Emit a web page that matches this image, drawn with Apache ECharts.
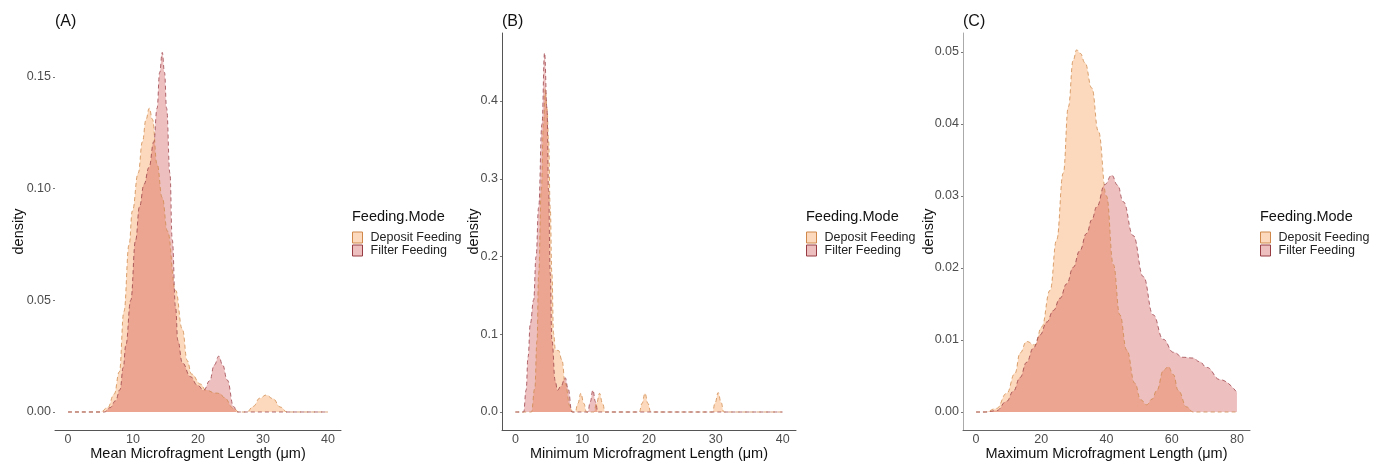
<!DOCTYPE html>
<html>
<head>
<meta charset="utf-8">
<title>Microfragment length density by feeding mode</title>
<script src="https://cdn.jsdelivr.net/npm/echarts@6/dist/echarts.min.js"></script>
<style>
  html, body { margin: 0; padding: 0; background: #fff; }
  #chart { width: 1381px; height: 464px; }
</style>
</head>
<body>
<div id="chart"></div>
<script>
// density curves, [length (µm), density]
const meanDeposit = [
  [0, 0], [5, 0], [6.1, 0.002], [7.1, 0.008], [7.9, 0.018], [8.6, 0.045], [9.4, 0.075],
  [9.9, 0.09], [10.8, 0.107], [11.45, 0.121], [12, 0.131], [12.5, 0.136], [13, 0.131],
  [13.7, 0.111], [14.5, 0.096], [15.3, 0.081], [16.55, 0.0545], [17.6, 0.037], [18.35, 0.023],
  [19, 0.017], [20.4, 0.0125], [21.2, 0.0098], [22.7, 0.0085], [23.4, 0.0083], [24, 0.0065],
  [25.5, 0.0016], [26.3, 0], [27.5, 0], [28.5, 0.0025], [29.5, 0.0062], [30.5, 0.0076],
  [31.5, 0.006], [32.7, 0.0022], [33.7, 0], [40, 0]
];
const meanFilter = [
  [0, 0], [5.6, 0], [6.5, 0.002], [7.3, 0.005], [8, 0.01], [8.5, 0.02], [8.9, 0.03],
  [9.65, 0.05], [10.4, 0.077], [11, 0.092], [11.7, 0.102], [12.46, 0.1095], [13.2, 0.121],
  [13.7, 0.136], [14.1, 0.152], [14.5, 0.161], [14.85, 0.152], [15.17, 0.136], [15.68, 0.107],
  [16.04, 0.077], [16.55, 0.047], [16.9, 0.032], [17.6, 0.022], [18.85, 0.0158], [19.9, 0.012],
  [20.9, 0.0098], [21.8, 0.014], [22.5, 0.021], [23.2, 0.025], [23.8, 0.021], [24.5, 0.0143],
  [25.5, 0.0024], [26, 0], [40, 0]
];
const minDeposit = [
  [0, 0], [2.4, 0], [2.9, 0.03], [3.24, 0.092], [3.48, 0.178], [3.88, 0.285], [4.2, 0.37],
  [4.48, 0.415], [4.75, 0.39], [4.97, 0.349], [5.22, 0.263], [5.47, 0.178], [5.72, 0.101],
  [6, 0.08], [6.47, 0.079], [6.97, 0.067], [7.46, 0.037], [8.2, 0.007], [8.6, 0],
  [8.95, 0], [9.35, 0.011], [9.8, 0.024], [10.25, 0.011], [10.65, 0],
  [11.75, 0], [12.15, 0.011], [12.6, 0.024], [13.05, 0.011], [13.45, 0],
  [18.55, 0], [18.95, 0.011], [19.4, 0.024], [19.85, 0.011], [20.25, 0],
  [29.5, 0], [29.9, 0.012], [30.35, 0.025], [30.8, 0.012], [31.2, 0], [40, 0]
];
const minFilter = [
  [0, 0], [1.24, 0], [1.6, 0.028], [1.9, 0.071], [2.24, 0.114], [2.73, 0.144], [3.1, 0.2],
  [3.48, 0.263], [3.98, 0.37], [4.37, 0.462], [4.73, 0.391], [4.97, 0.285], [5.22, 0.178],
  [5.47, 0.092], [5.97, 0.04], [6.3, 0.028], [6.8, 0.033], [7.46, 0.044], [7.9, 0.03],
  [8.46, 0], [10.85, 0], [11.2, 0.013], [11.6, 0.028], [12, 0.013], [12.35, 0], [40, 0]
];
const maxDeposit = [
  [0, 0], [2.8, 0], [6.3, 0.0005], [9.4, 0.0026], [11.95, 0.0054], [13.5, 0.0082],
  [15.5, 0.0098], [18.1, 0.0093], [20.1, 0.0118], [22.7, 0.0169], [24.7, 0.0239],
  [26.75, 0.0332], [28.3, 0.0424], [29.8, 0.0489], [30.85, 0.0503], [32, 0.0498],
  [33.4, 0.0485], [35.5, 0.045], [37.5, 0.039], [40, 0.03], [42.1, 0.0205], [44.1, 0.0135],
  [46.2, 0.0086], [48.7, 0.004], [50.5, 0.0017], [52.3, 0.001], [54, 0.0018], [55.4, 0.003],
  [57.5, 0.0058], [58.95, 0.0063], [60.5, 0.0052], [62, 0.003], [64.6, 0.0007], [66.6, 0],
  [80, 0]
];
const maxFilter = [
  [0, 0], [3, 0], [6.3, 0.0002], [9.4, 0.0015], [11.45, 0.0029], [13.5, 0.0048],
  [15.5, 0.0069], [17.6, 0.0089], [19.6, 0.0107], [21.7, 0.0125], [23.7, 0.0141],
  [25.75, 0.0158], [27.8, 0.0178], [29.8, 0.0201], [31.8, 0.0224], [33.9, 0.0248],
  [35.5, 0.0267], [37, 0.0285], [39.5, 0.0316], [41.6, 0.0329], [43.4, 0.0315],
  [45.15, 0.0292], [48.2, 0.0245], [51.3, 0.0188], [54.3, 0.0135], [57.4, 0.0101],
  [60.5, 0.0083], [63.5, 0.0076], [66.5, 0.0075], [68.5, 0.007], [70.7, 0.0062],
  [74.8, 0.0045], [80, 0.0027]
];

const groups = ['Deposit Feeding', 'Filter Feeding'];
const panelLabels = ['(A)', '(B)', '(C)'];
const xTitles = [
  'Mean Microfragment Length (μm)',
  'Minimum Microfragment Length (μm)',
  'Maximum Microfragment Length (μm)'
];
const xTicksA = [0, 10, 20, 30, 40];
const xTicksB = [0, 10, 20, 30, 40];
const xTicksC = [0, 20, 40, 60, 80];
const yTicksA = [0, 0.05, 0.10, 0.15];
const yTicksB = [0, 0.1, 0.2, 0.3, 0.4];
const yTicksC = [0, 0.01, 0.02, 0.03, 0.04, 0.05];

const font = '"Liberation Sans", Arial, sans-serif';
const fills = ['#f8a058', '#c83838'];
const strokes = ['#cf874a', '#983c44'];
const keyFills = ['#fcd9bc', '#edbfbf'];

const panels = [
  { curves: [meanDeposit, meanFilter], xTicks: xTicksA, yTicks: yTicksA, digits: 2,
    left: 55, width: 286, xMin: -2, xMax: 42, yMin: -0.00806, yMax: 0.1697,
    yLine: false, yLineColor: '#555', xLineColor: '#555', nameGap: 29, legendLeft: 352 },
  { curves: [minDeposit, minFilter], xTicks: xTicksB, yTicks: yTicksB, digits: 1,
    left: 502, width: 294, xMin: -2, xMax: 42, yMin: -0.02315, yMax: 0.4875,
    yLine: true, yLineColor: '#555', xLineColor: '#555', nameGap: 21, legendLeft: 806 },
  { curves: [maxDeposit, maxFilter], xTicks: xTicksC, yTicks: yTicksC, digits: 2,
    left: 963, width: 287, xMin: -4, xMax: 84, yMin: -0.0025, yMax: 0.05264,
    yLine: true, yLineColor: '#aaa', xLineColor: '#666', nameGap: 27, legendLeft: 1260 }
];

const chart = echarts.init(document.getElementById('chart'));

const series = [];
panels.forEach((p, i) => {
  p.curves.forEach((data, k) => {
    series.push({
      name: groups[k],
      type: 'line',
      xAxisIndex: i,
      yAxisIndex: i,
      data: data,
      smooth: 0.45,
      smoothMonotone: 'x',
      symbol: 'none',
      silent: true,
      itemStyle: { color: keyFills[k] },
      lineStyle: { color: strokes[k], width: 0.9, type: [4, 3], opacity: 0.85 },
      areaStyle: { color: fills[k], opacity: k === 0 ? 0.4 : 0.32 },
      emphasis: { disabled: true }
    });
  });
});

chart.setOption({
  animation: false,
  textStyle: { fontFamily: font },
  title: panels.map((p, i) => ({
    text: panelLabels[i], left: p.left, top: 14, padding: 0,
    textStyle: { fontSize: 16, fontWeight: 'normal', color: '#111', fontFamily: font }
  })).concat(panels.map(p => ({
    text: 'Feeding.Mode', left: p.legendLeft, top: 209, padding: 0,
    textStyle: { fontSize: 14.5, fontWeight: 'normal', color: '#111', fontFamily: font }
  }))),
  legend: panels.map(p => ({
    left: p.legendLeft, top: 231, orient: 'vertical', padding: 0,
    itemWidth: 10, itemHeight: 11, itemGap: 0, icon: 'rect', selectedMode: false,
    textStyle: { fontSize: 12.5, lineHeight: 11, color: '#222', fontFamily: font, padding: [0, 0, 0, 3] },
    data: groups.map((g, k) => ({
      name: g,
      itemStyle: { color: keyFills[k], borderColor: strokes[k], borderWidth: 1 }
    }))
  })),
  grid: panels.map(p => ({
    left: p.left, top: 33, width: p.width, height: 397, outerBoundsMode: 'none'
  })),
  xAxis: panels.map((p, i) => ({
    type: 'value', gridIndex: i, min: p.xMin, max: p.xMax,
    name: xTitles[i], nameLocation: 'middle', nameGap: 16, nameMoveOverlap: false,
    nameTextStyle: { fontSize: 14.5, color: '#111', fontFamily: font },
    axisLine: { show: true, onZero: false, lineStyle: { color: p.xLineColor, width: 1 } },
    axisTick: { show: false },
    splitLine: { show: false },
    axisLabel: { customValues: p.xTicks, margin: 3, fontSize: 12.5, color: '#4d4d4d', fontFamily: font }
  })),
  yAxis: panels.map((p, i) => ({
    type: 'value', gridIndex: i, min: p.yMin, max: p.yMax,
    name: 'density', nameLocation: 'middle', nameGap: p.nameGap, nameRotate: 90,
    nameMoveOverlap: false,
    nameTextStyle: { fontSize: 14.5, color: '#111', fontFamily: font },
    axisLine: { show: p.yLine, onZero: false, lineStyle: { color: p.yLineColor, width: 1 } },
    axisTick: { show: true, customValues: p.yTicks, length: 2, lineStyle: { color: '#777' } },
    splitLine: { show: false },
    axisLabel: {
      customValues: p.yTicks, margin: 4, fontSize: 12.5, color: '#4d4d4d', fontFamily: font,
      formatter: v => v.toFixed(p.digits)
    }
  })),
  series: series
});
</script>
</body>
</html>
